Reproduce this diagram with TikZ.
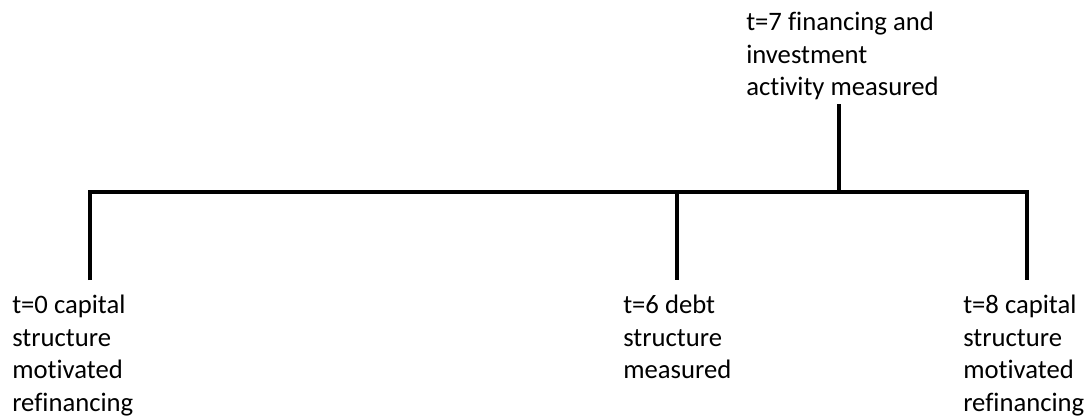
\documentclass[tikz,border=0pt]{standalone}
\usepackage{fontspec}
\setmainfont[Ligatures=NoCommon]{Carlito}
\usetikzlibrary{positioning}

\begin{document}
\begin{tikzpicture}[x=0.75pt,y=-0.75pt,
	bar/.style={line width=3pt,line join=miter},
	stamp/.style={anchor=north west,inner sep=0pt,align=left,font=\fontsize{20}{24.4}\selectfont}]
	%%%%% START %%%%%
	\useasboundingbox (0,0) rectangle (1089,417);
	
	% timeline points
	\coordinate (s0) at (90,192);
	\coordinate (s6) at (677,192);
	\coordinate (s7) at (839,192);
	\coordinate (s8) at (1027,192);
	\coordinate (e0) at (90,280);
	\coordinate (e6) at (677,280);
	\coordinate (e7) at (839,104);
	\coordinate (e8) at (1027,280);
	
	\draw[bar] (e0) -- (s0) -- (s8) -- (e8);
	\draw[bar] (s6) -- (e6);
	\draw[bar] (s7) -- (e7);
	
	% labels
	\node[stamp] (t0) at (12,295) {t=0 capital\\structure\\motivated\\refinancing};
	\node[stamp] (t6) at (623,295) {t=6 debt\\structure\\measured};
	\node[stamp] (t8) at (963,295) {t=8 capital\\structure\\motivated\\refinancing};
	\node[stamp] (t7) at (746,12) {t=7 financing and\\investment\\activity measured};
	
	%%%%% END %%%%%
\end{tikzpicture}
\end{document}
